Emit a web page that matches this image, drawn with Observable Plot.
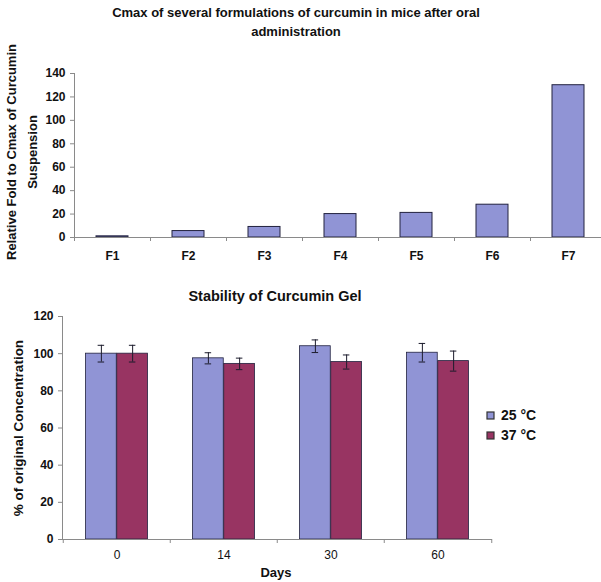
<!DOCTYPE html>
<html><head><meta charset="utf-8">
<script src="https://cdn.jsdelivr.net/npm/d3@7"></script>
<script src="https://cdn.jsdelivr.net/npm/@observablehq/plot@0.6"></script>
<style>
body{margin:0;background:#fff;}
#root{position:relative;width:601px;height:582px;overflow:hidden;font-family:"Liberation Sans",Arial,sans-serif;color:#111;}
#root > svg{position:absolute;left:0;}
#root > svg text{fill:#111;}
.t{position:absolute;font-weight:bold;white-space:nowrap;color:#111;}
#bot g[aria-label="y-axis tick label"]{font-weight:bold;}
#leg{position:absolute;left:487px;top:405px;}
#leg *{font-family:"Liberation Sans",Arial,sans-serif !important;font-size:14px !important;font-weight:bold !important;color:#111 !important;}
#leg .lg-swatches{display:flex !important;flex-direction:column !important;margin:0 !important;min-height:0 !important;}
#leg .lg-swatch{display:flex !important;align-items:center !important;height:20px !important;margin:0 !important;line-height:20px !important;}
#leg .lg-swatch svg{margin:0 7px 0 0 !important;flex-shrink:0;}
#leg .lg-swatch svg rect{stroke:#333;stroke-width:1.2px;}
</style>
</head><body><div id="root"></div>
<script>
// ---- Data: top chart ----
const formulations = ["F1", "F2", "F3", "F4", "F5", "F6", "F7"];
const cmaxFold = [1, 5.5, 9, 20, 21, 28, 130];
const topYTicks = [0, 20, 40, 60, 80, 100, 120, 140];

// ---- Data: bottom chart ----
const days = ["0", "14", "30", "60"];
const series = ["25 °C", "37 °C"];
const mean25 = [100, 97.5, 104, 100.5];
const sd25 = [4.5, 3, 3.4, 5];
const mean37 = [100, 94.5, 95.5, 96];
const sd37 = [4.5, 3.1, 3.8, 5.4];
const stabTicks = [0, 20, 40, 60, 80, 100, 120];

const colors = ["#9094d5", "#983462"];
const axisGray = "#8a8a8a";
const barStroke = "#22223f";
const font = '"Liberation Sans", Arial, sans-serif';

const root = document.getElementById("root");

// ---- Top chart ----
const topData = formulations.map((f, i) => ({f, v: cmaxFold[i]}));
const topRange = [74, 606];
const topStep = (topRange[1] - topRange[0]) / formulations.length;
const topPlot = Plot.plot({
  width: 601, height: 272,
  marginTop: 73, marginBottom: 35, marginLeft: 74, marginRight: 0,
  style: {fontFamily: font, fontSize: "12px", fontWeight: "bold", color: axisGray, background: "transparent"},
  x: {domain: formulations, range: topRange, paddingInner: 0.58, paddingOuter: 0.29, tickSize: 0, tickPadding: 14, label: null},
  y: {domain: [0, 140], ticks: topYTicks, tickSize: 4, tickPadding: 5, line: true, label: null},
  marks: [
    Plot.barY(topData, {x: "f", y: "v", fill: colors[0], stroke: barStroke, strokeWidth: 1}),
    Plot.ruleY([0], {stroke: axisGray}),
    Plot.ruleX(formulations, {x: d => d, y1: 0, y2: 0, dx: -topStep / 2, insetBottom: -4, stroke: axisGray})
  ]
});
topPlot.style.top = "0px";
topPlot.id = "top";
root.appendChild(topPlot);

// ---- Bottom chart ----
const s25 = days.map((d, i) => ({day: d, m: mean25[i], lo: mean25[i] - sd25[i], hi: mean25[i] + sd25[i]}));
const s37 = days.map((d, i) => ({day: d, m: mean37[i], lo: mean37[i] - sd37[i], hi: mean37[i] + sd37[i]}));
const botLeft = 62, botRight = 492;
const step = (botRight - botLeft) / days.length;
const barW = 31.25;
const gap = (step - 2 * barW) / 2;
const capW = 7;
const capInset = (step - capW) / 2;
const errStroke = "#1c1c2c";
const botPlot = Plot.plot({
  width: 601, height: 310,
  marginTop: 44, marginBottom: 43, marginLeft: botLeft, marginRight: 601 - botRight,
  style: {fontFamily: font, fontSize: "12px", fontWeight: "normal", color: axisGray, background: "transparent"},
  x: {domain: days, padding: 0, tickSize: 0, tickPadding: 11, label: null},
  y: {domain: [0, 120], ticks: stabTicks, tickSize: 4, tickPadding: 5, line: true, label: null},
  marks: [
    Plot.barY(s25, {x: "day", y: "m", fill: colors[0], stroke: barStroke, strokeWidth: 0.8, insetLeft: gap, insetRight: gap + barW}),
    Plot.barY(s37, {x: "day", y: "m", fill: colors[1], stroke: barStroke, strokeWidth: 0.8, insetLeft: gap + barW, insetRight: gap}),
    Plot.ruleX(s25, {x: "day", y1: "lo", y2: "hi", dx: -barW / 2, stroke: errStroke}),
    Plot.ruleX(s37, {x: "day", y1: "lo", y2: "hi", dx: barW / 2, stroke: errStroke}),
    Plot.tickY(s25, {x: "day", y: "lo", dx: -barW / 2, insetLeft: capInset, insetRight: capInset, stroke: errStroke}),
    Plot.tickY(s25, {x: "day", y: "hi", dx: -barW / 2, insetLeft: capInset, insetRight: capInset, stroke: errStroke}),
    Plot.tickY(s37, {x: "day", y: "lo", dx: barW / 2, insetLeft: capInset, insetRight: capInset, stroke: errStroke}),
    Plot.tickY(s37, {x: "day", y: "hi", dx: barW / 2, insetLeft: capInset, insetRight: capInset, stroke: errStroke}),
    Plot.ruleY([0], {stroke: axisGray}),
    Plot.ruleX(days, {x: d => d, y1: 0, y2: 0, dx: -step / 2, insetBottom: -4, stroke: axisGray}),
    Plot.ruleX(days.slice(-1), {x: d => d, y1: 0, y2: 0, dx: step / 2, insetBottom: -4, stroke: axisGray})
  ]
});
botPlot.style.top = "272px";
botPlot.id = "bot";
root.appendChild(botPlot);

// ---- Legend ----
const leg = Plot.legend({
  color: {type: "ordinal", domain: series, range: colors},
  legend: "swatches", swatchSize: 7, className: "lg"
});
const legWrap = document.createElement("div");
legWrap.id = "leg";
legWrap.appendChild(leg);
root.appendChild(legWrap);

// ---- Titles ----
function addText(txt, css) {
  const d = document.createElement("div");
  d.className = "t";
  d.innerHTML = txt;
  Object.assign(d.style, css);
  root.appendChild(d);
  return d;
}
addText("Cmax of several formulations of curcumin in mice after oral<br>administration",
  {left: "0px", width: "592px", top: "3px", textAlign: "center", fontSize: "13px", lineHeight: "19px"});
addText("Relative Fold to Cmax of Curcumin<br>Suspension",
  {left: "22px", top: "152px", width: "260px", textAlign: "center", fontSize: "13px", lineHeight: "21px",
   transform: "translate(-50%,-50%) rotate(-90deg)"});
addText("Stability of Curcumin Gel",
  {left: "275px", top: "296px", transform: "translate(-50%,-50%)", fontSize: "14.5px"});
addText("% of original Concentration",
  {left: "18px", top: "428px", transform: "translate(-50%,-50%) rotate(-90deg)", fontSize: "13.5px"});
addText("Days",
  {left: "276px", top: "572px", transform: "translate(-50%,-50%)", fontSize: "13px"});
</script>
</body></html>
